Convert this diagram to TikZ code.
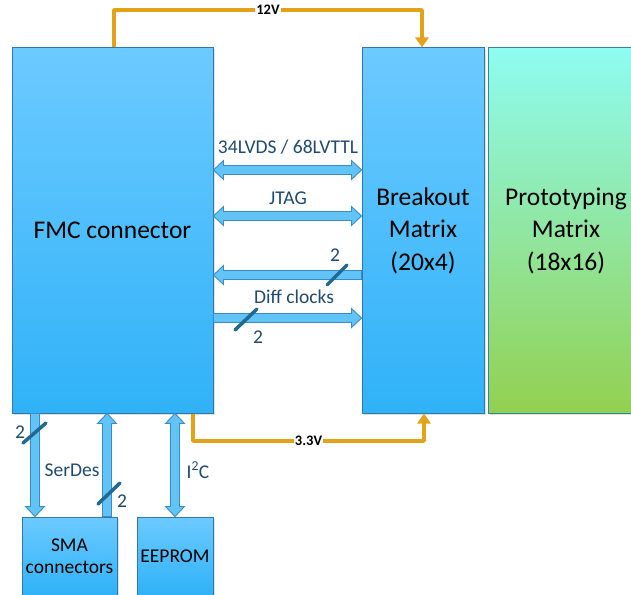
\documentclass[tikz,border=0pt]{standalone}
\usepackage{fontspec}
\setmainfont{Carlito}
\usetikzlibrary{calc,arrows.meta,shadows}
\definecolor{boxtop}{HTML}{6CCAFF}
\definecolor{boxbot}{HTML}{30B2F8}
\definecolor{boxline}{HTML}{2F78A8}
\definecolor{protop}{HTML}{8FFCF2}
\definecolor{probot}{HTML}{92D050}
\definecolor{proline}{HTML}{31859C}
\definecolor{pwrcol}{HTML}{E3A21A}
\definecolor{arrfill}{HTML}{62C4F6}
\definecolor{arrline}{HTML}{3A8CC6}
\definecolor{slashcol}{HTML}{1F6A95}
\definecolor{lblcol}{HTML}{1F4A6E}
\def\shw{4.5pt}
\def\hhw{9.5pt}
\def\hlen{10pt}
\newcommand\hollowdbl[2]{%
  \coordinate (pa) at (#1); \coordinate (pb) at (#2);
  \coordinate (pc) at ($(pa)!\hlen!(pb)$); \coordinate (pd) at ($(pb)!\hlen!(pa)$);
  \draw[arrowbody] (pa) -- ($(pc)!\hhw!90:(pb)$) -- ($(pc)!\shw!90:(pb)$)
    -- ($(pd)!\shw!-90:(pa)$) -- ($(pd)!\hhw!-90:(pa)$) -- (pb)
    -- ($(pd)!\hhw!90:(pa)$) -- ($(pd)!\shw!90:(pa)$)
    -- ($(pc)!\shw!-90:(pb)$) -- ($(pc)!\hhw!-90:(pb)$) -- cycle;}
\newcommand\hollowsgl[2]{%
  \coordinate (pa) at (#1); \coordinate (pb) at (#2);
  \coordinate (pd) at ($(pb)!\hlen!(pa)$);
  \draw[arrowbody] ($(pa)!\shw!90:(pb)$)
    -- ($(pd)!\shw!-90:(pa)$) -- ($(pd)!\hhw!-90:(pa)$) -- (pb)
    -- ($(pd)!\hhw!90:(pa)$) -- ($(pd)!\shw!90:(pa)$)
    -- ($(pa)!\shw!-90:(pb)$) -- cycle;}
\begin{document}
\begin{tikzpicture}[x=1pt,y=-1pt,
  box/.style={draw=boxline, line width=1pt, top color=boxtop, bottom color=boxbot,
    align=center, inner sep=0pt, text=black,
    drop shadow={shadow xshift=1.5pt, shadow yshift=-1.5pt, opacity=0.25, fill=gray}},
  probox/.style={box, draw=proline, top color=protop, bottom color=probot},
  bigtxt/.style={font=\fontsize{25.5}{32.5}\selectfont},
  smalltxt/.style={font=\fontsize{19.5}{22}\selectfont},
  lbl/.style={text=lblcol, font=\fontsize{19.5}{22}\selectfont, inner sep=1pt},
  pwr/.style={draw=pwrcol, line width=3.5pt, line join=round, -{Triangle[length=10pt,width=13pt]}},
  pwrlbl/.style={fill=white, text=black, inner sep=1pt, font=\fontsize{14.5}{16}\selectfont\bfseries},
  arrowbody/.style={fill=arrfill, draw=arrline, line width=0.9pt, line join=miter},
  slash/.style={draw=slashcol, line width=3.5pt, line cap=round}]
\useasboundingbox (0,0) rectangle (631,594);
\clip (0,0) rectangle (631,594);
% boxes
\node[box, bigtxt, minimum width=201pt, minimum height=365pt] (fmc) at (112.5,230.5) {FMC connector};
\node[box, bigtxt, minimum width=122pt, minimum height=365pt] (brk) at (423,230.5) {Breakout\\Matrix\\(20x4)};
\node[probox, bigtxt, minimum width=156pt, minimum height=365pt] (proto) at (566,230.5) {Prototyping\\Matrix\\(18x16)};
\node[box, smalltxt, minimum width=95pt, minimum height=78pt] (sma) at (69.5,556) {SMA\\connectors};
\node[box, smalltxt, minimum width=76pt, minimum height=78pt] (eeprom) at (175,556) {EEPROM};
% power lines
\draw[pwr] (114,0 |- fmc.north) -- (114,10) -- node[pwrlbl]{12V} (422,10) -- (422,0 |- brk.north);
\draw[pwr] (193,0 |- fmc.south) -- (193,441) -- node[pwrlbl]{3.3V} (424,441) -- (424,0 |- brk.south);
% horizontal buses
\hollowdbl{fmc.east |- 0,170}{brk.west |- 0,170}
\hollowdbl{fmc.east |- 0,216}{brk.west |- 0,216}
\hollowsgl{brk.west |- 0,275}{fmc.east |- 0,275}
\hollowsgl{fmc.east |- 0,318}{brk.west |- 0,318}
% vertical buses
\hollowsgl{35,0 |- fmc.south}{35,0 |- sma.north}
\hollowsgl{107,0 |- sma.north}{107,0 |- fmc.south}
\hollowdbl{175,0 |- fmc.south}{175,0 |- eeprom.north}
% bus width marks
\draw[slash] (327,285) -- (347,265);
\draw[slash] (235,330) -- (257,309);
\draw[slash] (23,443) -- (46,423);
\draw[slash] (98,504) -- (120,483);
% labels
\node[lbl] (l1) at (288,147) {34LVDS / 68LVTTL};
\node[lbl] (l2) at (288,198) {JTAG};
\node[lbl] (l3) at (294,297) {Diff clocks};
\node[lbl] (n1) at (335,255) {2};
\node[lbl] (n2) at (258,337) {2};
\node[lbl] (n3) at (20,432) {2};
\node[lbl] (n4) at (122,501) {2};
\node[lbl] (l4) at (72,470) {SerDes};
\node[lbl] (l5) at (198,470) {I\textsuperscript{2}C};
\end{tikzpicture}
\end{document}
